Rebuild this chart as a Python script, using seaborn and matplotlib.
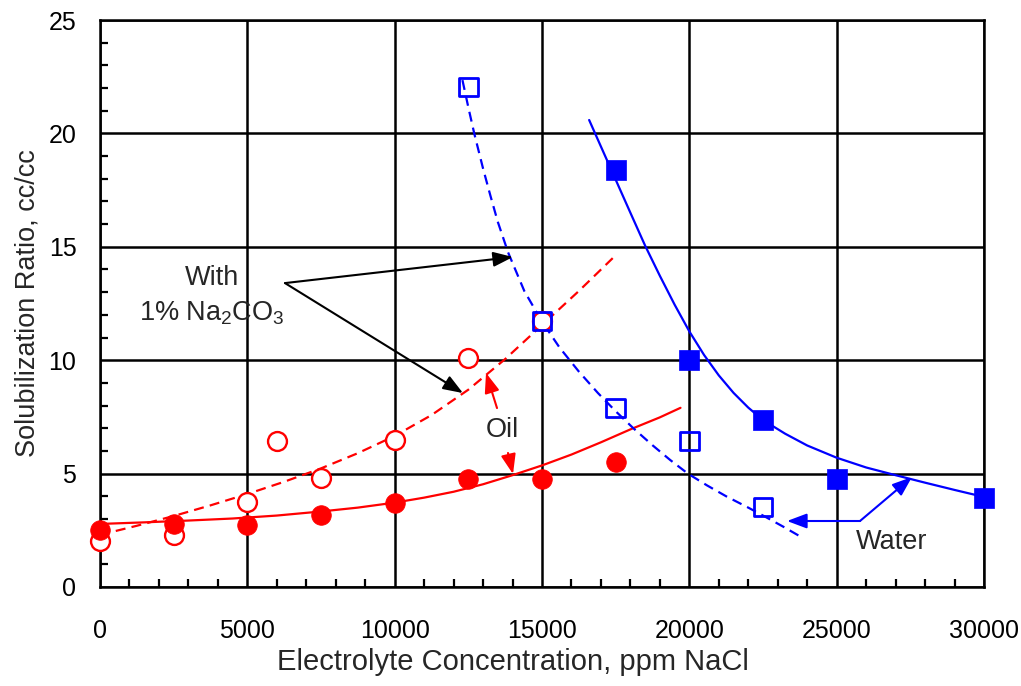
import matplotlib
matplotlib.use("Agg")
import matplotlib.pyplot as plt
from matplotlib.ticker import MultipleLocator
import seaborn as sns

# Measured solubilization ratios (cc/cc) vs. salinity (ppm NaCl)
conc_oil = [0, 2500, 5000, 7500, 10000, 12500, 15000, 17500]
oil_ratio = [2.51, 2.78, 2.73, 3.17, 3.70, 4.76, 4.76, 5.51]

conc_oil_na = [0, 2500, 5000, 6000, 7500, 10000, 12500, 15000]
oil_ratio_na = [2.03, 2.29, 3.75, 6.44, 4.81, 6.48, 10.10, 11.73]

conc_water_na = [12500, 15000, 17500, 20000, 22500]
water_ratio_na = [22.05, 11.73, 7.89, 6.44, 3.53]

conc_water = [17500, 20000, 22500, 25000, 30000]
water_ratio = [18.39, 10.01, 7.36, 4.76, 3.92]

# Trend curves through each data set
oil_fit_x = [0, 1500, 3000, 4500, 6000, 7500, 8750, 10000, 11000, 12000, 13000, 14000,
             15000, 16000, 17000, 18000, 19000, 19700]
oil_fit_y = [2.78, 2.85, 2.93, 3.02, 3.15, 3.33, 3.50, 3.72, 3.94, 4.20, 4.53, 4.93,
             5.36, 5.84, 6.38, 6.95, 7.48, 7.90]

oil_na_fit_x = [0, 1250, 2500, 3750, 5000, 6250, 7500, 8750, 10000, 11250, 12500, 13750,
                15000, 16250, 17400]
oil_na_fit_y = [2.30, 2.70, 3.13, 3.60, 4.10, 4.64, 5.23, 5.90, 6.66, 7.58, 8.70, 10.05,
                11.55, 13.05, 14.50]

water_na_fit_x = [12300, 12500, 12700, 13000, 13250, 13500, 13850, 14400, 15000, 15600,
                  16250, 16900, 17500, 18100, 18750, 19350, 19950, 20600, 21250, 22000,
                  22600, 23200, 23800]
water_na_fit_y = [22.35, 21.15, 20.00, 18.45, 17.25, 16.10, 14.75, 13.05, 11.70, 10.55,
                  9.50, 8.55, 7.75, 7.00, 6.25, 5.60, 5.00, 4.48, 4.00, 3.50,
                  3.08, 2.65, 2.20]

water_fit_x = [16600, 17000, 17500, 18000, 18500, 19000, 19500, 20000, 20500, 21000, 21500,
               22000, 22500, 23250, 24000, 25000, 26000, 27000, 28000, 29000, 30000]
water_fit_y = [20.59, 19.42, 17.96, 16.50, 15.05, 13.72, 12.45, 11.27, 10.23, 9.33, 8.56,
               7.91, 7.36, 6.76, 6.24, 5.70, 5.27, 4.93, 4.60, 4.28, 3.97]

x_ticks = [0, 5000, 10000, 15000, 20000, 25000, 30000]
y_ticks = [0, 5, 10, 15, 20, 25]

sns.set_style("white")
plt.rcParams["font.family"] = ["Liberation Sans", "DejaVu Sans"]
plt.rcParams["mathtext.fontset"] = "custom"
plt.rcParams["mathtext.rm"] = "Liberation Sans"
plt.rcParams["mathtext.it"] = "Liberation Sans:italic"

RED = "#ff0000"
BLUE = "#0000ff"

fig = plt.figure(figsize=(10.21, 6.86), dpi=100)
ax = fig.add_axes([100 / 1021, 1 - 587 / 686, 884 / 1021, 567 / 686])

# Curves
dash = (0, (4.5, 2.8))
line_kw = dict(ax=ax, lw=1.6, sort=False, estimator=None, zorder=3)
sns.lineplot(x=oil_fit_x, y=oil_fit_y, color=RED, **line_kw)
sns.lineplot(x=oil_na_fit_x, y=oil_na_fit_y, color=RED, linestyle=dash, **line_kw)
sns.lineplot(x=water_na_fit_x, y=water_na_fit_y, color=BLUE, linestyle=dash, **line_kw)
sns.lineplot(x=water_fit_x, y=water_fit_y, color=BLUE, **line_kw)

# Data points
sns.scatterplot(x=conc_oil_na, y=oil_ratio_na, ax=ax, marker="o", s=185, facecolor="white",
                edgecolor=RED, linewidth=1.7, zorder=4, clip_on=False)
sns.scatterplot(x=conc_oil, y=oil_ratio, ax=ax, marker="o", s=200, color=RED,
                edgecolor=RED, linewidth=0.5, zorder=5, clip_on=False)
sns.scatterplot(x=conc_water_na, y=water_ratio_na, ax=ax, marker="s", s=175, facecolor="none",
                edgecolor=BLUE, linewidth=2.0, zorder=6, clip_on=False)
sns.scatterplot(x=conc_water, y=water_ratio, ax=ax, marker="s", s=195, color=BLUE,
                edgecolor=BLUE, linewidth=0.5, zorder=5, clip_on=False)

ax.set_xlim(0, 30000)
ax.set_ylim(0, 25)
ax.set_xticks(x_ticks)
ax.set_yticks(y_ticks)
ax.set_xticklabels([str(t) for t in x_ticks])
ax.set_yticklabels([str(t) for t in y_ticks])
ax.xaxis.set_minor_locator(MultipleLocator(1000))
ax.yaxis.set_minor_locator(MultipleLocator(1))
ax.tick_params(axis="both", which="major", length=0, labelsize=18, colors="black")
ax.tick_params(axis="x", which="major", pad=23)
ax.tick_params(axis="y", which="major", pad=17)
ax.tick_params(axis="both", which="minor", direction="in", length=6, width=1.6, color="black",
               bottom=True, left=True, top=False, right=False)
ax.grid(True, which="major", color="black", lw=1.8)
ax.set_axisbelow(True)
for sp in ax.spines.values():
    sp.set_color("black")
    sp.set_linewidth(1.8)
    sp.set_visible(True)

ax.set_xlabel("Electrolyte Concentration, ppm NaCl", fontsize=21)
ax.xaxis.set_label_coords(0.467, -0.108)
ax.set_ylabel("Solubilization Ratio, cc/cc", fontsize=19.5, labelpad=6)

# Annotations
ANN = 19.5
ax.text(3800, 13.62, "With", fontsize=ANN, ha="center", va="center")
ax.text(3800, 12.08, "1% Na$_2$CO$_3$", fontsize=ANN, ha="center", va="center")
head = "-|>,head_length=1.2,head_width=0.45"
black_arrow = dict(arrowstyle=head, color="black", lw=1.5, shrinkA=0, shrinkB=0)
ax.annotate("", xy=(14016, 14.55), xytext=(6278, 13.40), arrowprops=black_arrow, zorder=7)
ax.annotate("", xy=(12319, 8.55), xytext=(6278, 13.40), arrowprops=black_arrow, zorder=7)

ax.text(13643, 6.92, "Oil", fontsize=ANN, ha="center", va="center")
red_arrow = dict(arrowstyle=head, color=RED, lw=1.5, shrinkA=0, shrinkB=0)
ax.annotate("", xy=(13100, 9.44), xytext=(13473, 7.89), arrowprops=red_arrow, zorder=7)
ax.annotate("", xy=(14016, 4.98), xytext=(13846, 5.91), arrowprops=red_arrow, zorder=7)

ax.text(26878, 1.98, "Water", fontsize=ANN, ha="center", va="center")
blue_arrow = dict(arrowstyle=head, color=BLUE, lw=1.5, shrinkA=0, shrinkB=0)
ax.annotate("", xy=(23314, 2.91), xytext=(25792, 2.91), arrowprops=blue_arrow, zorder=7)
ax.annotate("", xy=(27557, 4.85), xytext=(25792, 2.91), arrowprops=blue_arrow, zorder=7)

fig.savefig("out.png", dpi=100, facecolor="white")
